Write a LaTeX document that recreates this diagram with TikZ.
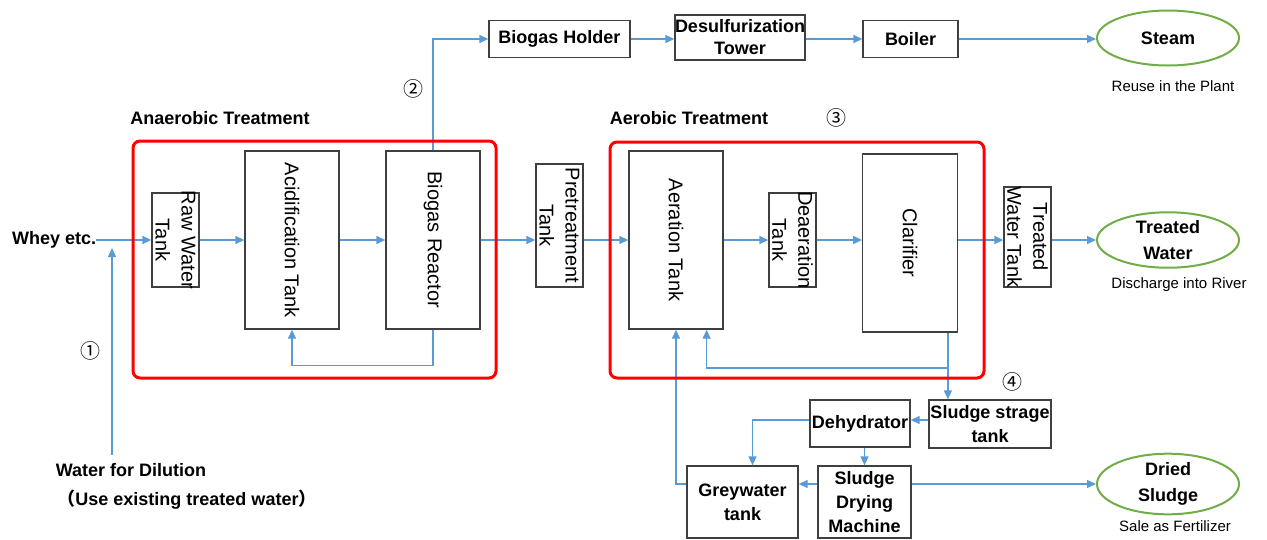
\documentclass[tikz,border=0pt]{standalone}
\usepackage{fontspec}
\setmainfont{Liberation Sans}
\newfontfamily\cjk{Noto Sans CJK JP}
\usetikzlibrary{arrows.meta,shapes.geometric}
\definecolor{flow}{HTML}{5B9BD5}
\definecolor{boxc}{HTML}{3F3F3F}
\definecolor{grn}{HTML}{70AD47}
\definecolor{grpred}{HTML}{FF0000}
\begin{document}
\begin{tikzpicture}[x=1pt,y=-1pt,
  box/.style={draw=boxc, line width=1.3pt, inner sep=0pt, align=center, fill=white,
    font=\bfseries\fontsize{18}{24}\selectfont},
  vtext/.style={rotate=-90, align=center, inner sep=0pt, font=\fontsize{20}{26}\selectfont},
  flowline/.style={draw=flow, line width=1.3pt},
  arr/.style={flowline, -{Triangle[length=9pt,width=8pt]}},
  grp/.style={draw=grpred, line width=3pt, rounded corners=7pt},
  oval/.style={ellipse, draw=grn, line width=2pt, minimum width=142pt, minimum height=55pt,
    inner sep=0pt, align=center, font=\bfseries\fontsize{18}{26}\selectfont},
  lab/.style={font=\bfseries\fontsize{18}{22}\selectfont, inner sep=0pt},
  note/.style={font=\fontsize{15}{18}\selectfont, inner sep=0pt},
  num/.style={font=\cjk\fontsize{20}{22}\selectfont, inner sep=0pt}
]
\useasboundingbox (0,0) rectangle (1267,539);

% ---------- anaerobic section ----------
\node[lab, anchor=west] (whey) at (12,240) {Whey etc.};
\node[box, minimum width=47, minimum height=94] (raw) at (175.5,240) {};
\node[vtext] (rawt) at (raw) {Raw Water\\Tank};
\node[box, minimum width=94, minimum height=178] (acid) at (292,240) {};
\node[vtext] (acidt) at (acid) {Acidification Tank};
\node[box, minimum width=94, minimum height=178] (bior) at (433,240) {};
\node[vtext] (biort) at (bior) {Biogas Reactor};
\node[lab] (anlab) at (220,118) {Anaerobic Treatment};
\node[num] (n1) at (90,351) {①};
\node[lab] (wd) at (131,470) {Water for Dilution};
\node[lab] (wd2) at (187,500) {{\cjk （}Use existing treated water{\cjk ）}};

% ---------- biogas line ----------
\node[box, minimum width=141, minimum height=37] (holder) at (559.5,39) {Biogas Holder};
\node[box, minimum width=130, minimum height=45, font=\bfseries\fontsize{18}{22}\selectfont] (desulf) at (740,37.5) {Desulfurization\\Tower};
\node[box, minimum width=95, minimum height=37] (boiler) at (910.5,39) {Boiler};
\node[oval] (steam) at (1168,38) {Steam};
\node[note] (reuse) at (1173,86) {Reuse in the Plant};
\node[num] (n2) at (413,89) {②};

% ---------- aerobic section ----------
\node[box, minimum width=47, minimum height=123] (pre) at (559.5,225.5) {};
\node[vtext] (pret) at (pre) {Pretreatment\\Tank};
\node[box, minimum width=94, minimum height=178] (aer) at (676,240) {};
\node[vtext] (aert) at (aer) {Aeration Tank};
\node[box, minimum width=47, minimum height=94] (dea) at (792.5,240) {};
\node[vtext] (deat) at (dea) {Deaeration\\Tank};
\node[box, minimum width=94.5, minimum height=178] (clar) at (910,243) {};
\node[vtext] (clart) at (clar) {Clarifier};
\node[box, minimum width=47, minimum height=100] (twt) at (1027.5,237) {};
\node[vtext] (twtt) at (twt) {Treated\\Water Tank};
\node[oval] (tw) at (1168,240) {Treated\\Water};
\node[note] (disch) at (1179,285) {Discharge into River};
\node[lab] (aelab) at (689,118) {Aerobic Treatment};
\node[num] (n3) at (836,118) {③};
\node[num] (n4) at (1012,382) {④};

% ---------- sludge section ----------
\node[box, minimum width=122, minimum height=48] (sst) at (990,424) {Sludge strage\\tank};
\node[box, minimum width=100, minimum height=47] (dehy) at (860,423.5) {Dehydrator};
\node[box, minimum width=111, minimum height=72] (grey) at (742.5,502) {Greywater\\tank};
\node[box, minimum width=93, minimum height=72] (dry) at (864.5,502) {Sludge\\Drying\\Machine};
\node[oval] (ds) at (1168,484) {Dried\\Sludge};
\node[note] (sale) at (1175,526) {Sale as Fertilizer};

% ---------- helper coordinates ----------
\coordinate (dilb) at (112,455);
\coordinate (dilt) at (112,248);
\coordinate (ry) at (0,368);
\coordinate (ly) at (0,420);
\coordinate (gy) at (0,484);
\coordinate (clarout) at ([xshift=-10pt]clar.south east);
\coordinate (aerin) at ([xshift=-17pt]aer.south east);
\coordinate (gin) at ([xshift=10pt]grey.north);

% ---------- connectors ----------
\draw[arr] (whey.east) -- (raw.west);
\draw[arr] (dilb) -- (dilt);
\draw[arr] (raw.east) -- (acid.west);
\draw[arr] (acid.east) -- (bior.west);
\draw[arr] (bior.south) -- ++(0,36) -| (acid.south);
\draw[arr] (bior.north) |- (holder.west);
\draw[arr] (holder.east) -- (holder.east -| desulf.west);
\draw[arr] (boiler.west -| desulf.east) -- (boiler.west);
\draw[arr] (boiler.east) -- (boiler.east -| steam.west);
\draw[arr] (bior.east) -- (bior.east -| pre.west);
\draw[arr] (aer.west -| pre.east) -- (aer.west);
\draw[arr] (aer.east) -- (dea.west);
\draw[arr] (dea.east) -- (dea.east -| clar.west);
\draw[arr] (dea.east -| clar.east) -- (dea.east -| twt.west);
\draw[arr] (twt.east |- tw.west) -- (tw.west);
\draw[arr] (clarout) -- (clarout |- sst.north);
\draw[arr] (clarout |- ry) -| (aerin);
\draw[arr] (grey.west |- gy) -| (aer.south);
\draw[arr] (sst.west |- ly) -- (dehy.east |- ly);
\draw[arr] (dehy.west |- ly) -| (gin);
\draw[arr] (dry.north |- dehy.south) -- (dry.north);
\draw[arr] (dry.west |- gy) -- (grey.east |- gy);
\draw[arr] (dry.east |- gy) -- (ds.west);

% ---------- group frames ----------
\draw[grp] (133,141) rectangle (496,378);
\draw[grp] (610,142) rectangle (984,378);
\end{tikzpicture}
\end{document}
